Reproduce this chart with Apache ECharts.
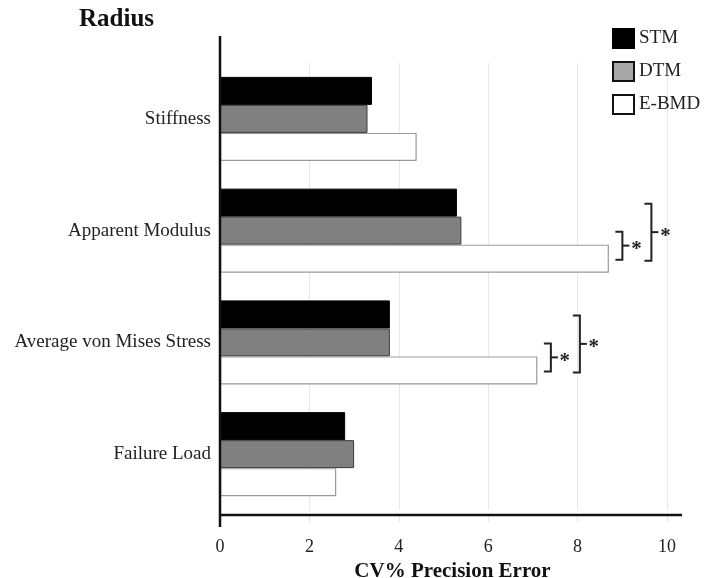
<!DOCTYPE html>
<html>
<head>
<meta charset="utf-8">
<script src="https://cdn.jsdelivr.net/npm/echarts@6/dist/echarts.min.js"></script>
<style>html,body{margin:0;padding:0;background:#fff}#c{width:706px;height:578px}</style>
</head>
<body>
<div id="c"></div>
<script>
var categories = ['Stiffness', 'Apparent Modulus', 'Average von Mises Stress', 'Failure Load'];
var stmValues = [3.4, 5.3, 3.8, 2.8];
var dtmValues = [3.3, 5.4, 3.8, 3.0];
var ebmdValues = [4.4, 8.7, 7.1, 2.6];
var seriesNames = ['STM', 'DTM', 'E-BMD'];
var sigCategoryIndices = [1, 2];
var xMin = 0, xMax = 10, xInterval = 2;

var FONT = '"Liberation Serif", "Times New Roman", serif';
var GRID_TOP = 63, GRID_BOTTOM = 68, BAR_W = 28;

var sigData = sigCategoryIndices.map(function (i) { return [ebmdValues[i], i]; });

var chart = echarts.init(document.getElementById('c'));
chart.setOption({
  animation: false,
  backgroundColor: '#fff',
  title: {
    text: 'Radius', left: 74, top: 2,
    textStyle: { fontFamily: FONT, fontSize: 25, fontWeight: 'bold', color: '#111' }
  },
  legend: {
    orient: 'vertical', left: 612, top: 28, padding: 0,
    itemWidth: 21, itemHeight: 19, itemGap: 12,
    textStyle: { fontFamily: FONT, fontSize: 19, color: '#222' },
    data: [
      { name: 'STM', icon: 'rect', itemStyle: { color: '#000', borderColor: '#000', borderWidth: 2 } },
      { name: 'DTM', icon: 'rect', itemStyle: { color: '#a8a8a8', borderColor: '#111', borderWidth: 2 } },
      { name: 'E-BMD', icon: 'rect', itemStyle: { color: '#fff', borderColor: '#111', borderWidth: 2 } }
    ]
  },
  grid: { left: 220, right: 39, top: GRID_TOP, bottom: GRID_BOTTOM, containLabel: false, outerBoundsMode: 'none' },
  xAxis: {
    type: 'value', min: xMin, max: xMax, interval: xInterval, offset: 5,
    name: 'CV% Precision Error', nameLocation: 'middle', nameGap: 39,
    nameTextStyle: { fontFamily: FONT, fontSize: 21, fontWeight: 'bold', color: '#111', padding: [0, 0, 0, 18] },
    axisLine: { show: false },
    axisTick: { show: true, length: 7, lineStyle: { color: '#e4e4e4' } },
    axisLabel: { fontFamily: FONT, fontSize: 18, color: '#222', margin: 23 },
    splitLine: { show: true, lineStyle: { color: '#e8e8e8', width: 1 } }
  },
  yAxis: {
    type: 'category', data: categories, inverse: true,
    axisLine: { show: false }, axisTick: { show: false },
    axisLabel: { fontFamily: FONT, fontSize: 19, color: '#222', margin: 9 }
  },
  series: [
    { name: seriesNames[0], type: 'bar', data: stmValues, barWidth: BAR_W, barGap: '0%',
      itemStyle: { color: '#000', borderColor: '#000', borderWidth: 1 } },
    { name: seriesNames[1], type: 'bar', data: dtmValues, barWidth: BAR_W, barGap: '0%',
      itemStyle: { color: '#808080', borderColor: '#3a3a3a', borderWidth: 1 } },
    { name: seriesNames[2], type: 'bar', data: ebmdValues, barWidth: BAR_W, barGap: '0%',
      itemStyle: { color: '#fff', borderColor: '#9a9a9a', borderWidth: 1.2 } },
    { name: 'sig', type: 'custom', data: sigData, silent: true, z: 5,
      renderItem: function (params, api) {
        var p = api.coord([api.value(0), api.value(1)]);
        var x = p[0], c = p[1];
        var yS = c - BAR_W, yD = c, yE = c + BAR_W;
        var st = { stroke: '#222', lineWidth: 2, fill: null };
        function bracket(x1, ya, yb) {
          var mid = (ya + yb) / 2;
          return [
            { type: 'polyline', shape: { points: [[x1, ya], [x1 + 7, ya], [x1 + 7, yb], [x1, yb]] }, style: st },
            { type: 'line', shape: { x1: x1 + 7, y1: mid, x2: x1 + 14, y2: mid }, style: st },
            { type: 'text', style: { text: '*', x: x1 + 21, y: mid + 4, fontSize: 21, fontWeight: 'bold',
                fontFamily: FONT, fill: '#222', align: 'center', verticalAlign: 'middle' } }
          ];
        }
        return { type: 'group', children: bracket(x + 6.5, yD + 1, yE + 1).concat(bracket(x + 35.5, yS + 1, yE + 2)) };
      }
    }
  ]
});

var x0 = chart.convertToPixel({ xAxisIndex: 0 }, xMin);
var x10 = chart.convertToPixel({ xAxisIndex: 0 }, xMax);
var gTop = GRID_TOP, gBot = 578 - GRID_BOTTOM;
chart.setOption({
  graphic: [
    { type: 'line', shape: { x1: x0, y1: gTop - 27, x2: x0, y2: gBot + 17 }, style: { stroke: '#111', lineWidth: 2.5 }, z: 10 },
    { type: 'line', shape: { x1: x0, y1: gBot + 5, x2: x10 + 15, y2: gBot + 5 }, style: { stroke: '#111', lineWidth: 2.5 }, z: 10 }
  ]
});
</script>
</body>
</html>
